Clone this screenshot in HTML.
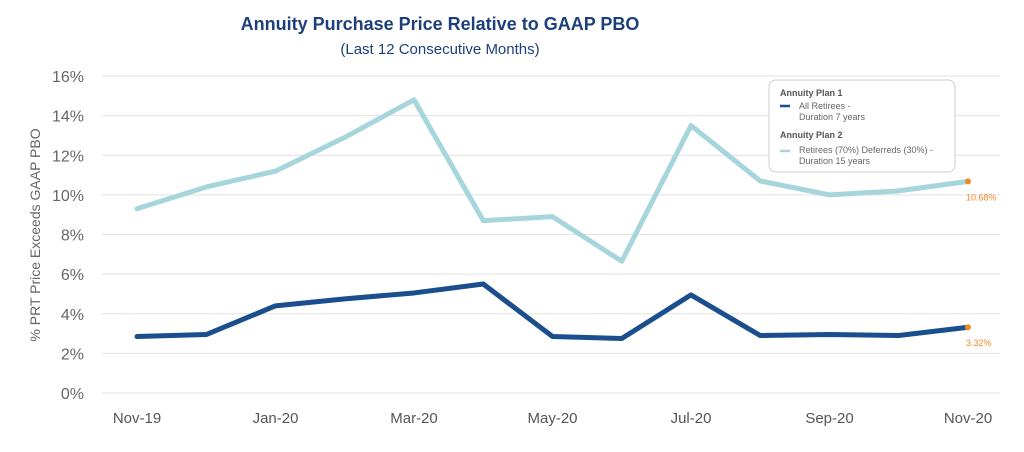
<!DOCTYPE html>
<html><head><meta charset="utf-8"><style>
body{margin:0;background:#fff;font-family:"Liberation Sans",sans-serif}
svg{display:block}
</style></head><body>
<svg id="c" width="1024" height="452">
<text x="440" y="30" text-anchor="middle" font-size="18" font-weight="bold" fill="#1d3f7a">Annuity Purchase Price Relative to GAAP PBO</text>
<text x="440" y="54" text-anchor="middle" font-size="15" fill="#1d3f7a">(Last 12 Consecutive Months)</text>
<text transform="translate(40,235) rotate(-90)" text-anchor="middle" font-size="14" fill="#666">% PRT Price Exceeds GAAP PBO</text>
<g id="grid"></g><g id="series"></g>
<g>
<rect x="769" y="80" width="186" height="92" rx="7" fill="#fff" stroke="#ccc" stroke-width="1"/>
<text x="780" y="96" font-size="9" font-weight="bold" fill="#555">Annuity Plan 1</text>
<line x1="780" y1="106" x2="790" y2="106" stroke="#1a4e8c" stroke-width="2.5"/>
<text x="799" y="109" font-size="9" fill="#666">All Retirees -</text>
<text x="799" y="120" font-size="9" fill="#666">Duration 7 years</text>
<text x="780" y="138" font-size="9" font-weight="bold" fill="#555">Annuity Plan 2</text>
<line x1="780" y1="151" x2="790" y2="151" stroke="#a7d5dc" stroke-width="2.5"/>
<text x="799" y="153" font-size="9" fill="#666">Retirees (70%) Deferreds (30%) -</text>
<text x="799" y="164" font-size="9" fill="#666">Duration 15 years</text>
</g>
</svg>
<script>
const months=["Nov-19","Dec-19","Jan-20","Feb-20","Mar-20","Apr-20","May-20","Jun-20","Jul-20","Aug-20","Sep-20","Oct-20","Nov-20"];
const plan2=[9.3,10.4,11.2,12.9,14.8,8.7,8.9,6.65,13.5,10.7,10.0,10.2,10.68];
const plan1=[2.85,2.95,4.4,4.75,5.05,5.5,2.85,2.75,4.95,2.9,2.95,2.9,3.32];
const yTicks=[0,2,4,6,8,10,12,14,16];
const xLabelIdx=[0,2,4,6,8,10,12];
const NS="http://www.w3.org/2000/svg";
const x=i=>137+i*(968-137)/(months.length-1);
const y=v=>393-v*(393-76)/16;
const grid=document.getElementById('grid'),ser=document.getElementById('series');
function mk(tag,at,parent){const e=document.createElementNS(NS,tag);for(const k in at)e.setAttribute(k,at[k]);parent.appendChild(e);return e;}
yTicks.forEach(t=>{
 const l=mk('line',{x1:102,x2:1000,y1:y(t),y2:y(t),stroke:'#e2e2e2','stroke-width':1},grid);
 
 
 const tx=mk('text',{x:84,y:y(t)+6,'text-anchor':'end','font-size':16,fill:'#666'},grid);tx.textContent=t+'%';
 
 
});
xLabelIdx.forEach(i=>{
 const tx=mk('text',{x:x(i),y:423,'text-anchor':'middle','font-size':15,fill:'#555'},grid);tx.textContent=months[i];
 
 
});
function line(vals,col,name,label){
 const p=mk('polyline',{points:vals.map((v,i)=>x(i)+','+y(v)).join(' '),fill:'none',stroke:col,'stroke-width':5,'stroke-linejoin':'round','stroke-linecap':'round'},ser);
 
 
 const n=vals.length-1;
 const c=mk('circle',{cx:x(n),cy:y(vals[n]),r:3,fill:'#f08a24'},ser);
 
 
 const t=mk('text',{x:x(n)-2,y:y(vals[n])+19,'font-size':9,fill:'#f08a24'},ser);t.textContent=vals[n].toFixed(2)+'%';
 
 
}
line(plan2,'#a7d5dc','plan2-line');
line(plan1,'#1a4e8c','plan1-line');
</script>
</body></html>
